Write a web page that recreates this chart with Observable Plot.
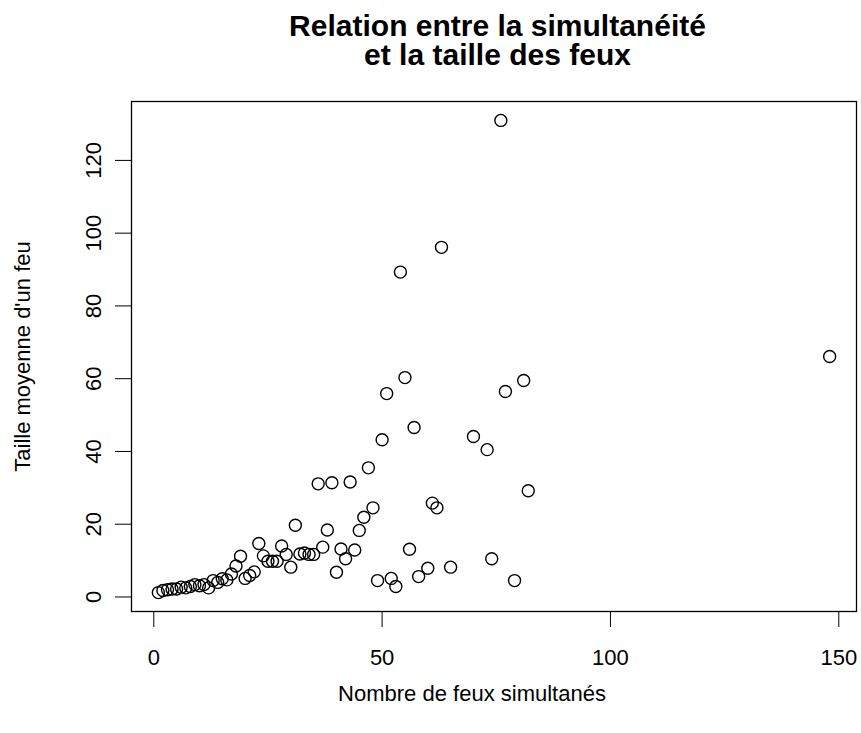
<!DOCTYPE html>
<html><head><meta charset="utf-8">
<script src="https://cdn.jsdelivr.net/npm/d3@7"></script>
<script src="https://cdn.jsdelivr.net/npm/@observablehq/plot@0.6"></script>
<style>
body{margin:0;background:#fff;}
#title{box-sizing:border-box;width:861px;height:66px;padding:11px 0 0 134px;color:#000;overflow:visible;}
#title div{font:bold 30px/29px "Liberation Sans",Arial,sans-serif;text-align:center;height:29px;}
</style></head><body>
<div id="title"><div>Relation entre la simultanéité</div><div>et la taille des feux</div></div>
<div id="chart"></div>
<script>
const nbFeux = [1,2,3,4,5,6,7,8,9,10,11,12,13,14,15,16,17,18,19,20,21,22,23,24,25,26,27,28,29,30,31,32,33,34,35,36,37,38,39,40,41,42,43,44,45,46,47,48,49,50,51,52,53,54,55,56,57,58,60,61,62,63,65,70,73,74,76,77,79,81,82,148];
const tailleMoyenne = [1.2,1.8,2.0,2.2,2.2,2.7,2.5,2.9,3.4,3.1,3.4,2.5,4.5,4.0,5.0,4.7,6.3,8.5,11.2,5.1,5.9,6.9,14.7,11.3,9.8,9.8,9.8,14.0,11.7,8.2,19.7,11.8,12.1,11.7,11.7,31.1,13.7,18.4,31.4,6.8,13.2,10.5,31.6,12.9,18.3,21.9,35.5,24.5,4.5,43.2,55.9,5.1,2.9,89.3,60.3,13.1,46.6,5.6,7.9,25.8,24.5,96.1,8.2,44.1,40.5,10.5,131.0,56.5,4.5,59.5,29.2,66.1];
const xTicks = [0,50,100,150];
const yTicks = [0,20,40,60,80,100,120];
const xLabel = "Nombre de feux simultanés";
const yLabel = "Taille moyenne d'un feu";

const data = nbFeux.map((x, i) => ({x, y: tailleMoyenne[i]}));
function pad(ext){ const r = ext[1] - ext[0]; return [ext[0] - 0.04 * r, ext[1] + 0.04 * r]; }
const font = '"Liberation Sans",Arial,sans-serif';
const chart = Plot.plot({
  width: 861, height: 667,
  marginTop: 35, marginBottom: 122, marginLeft: 131, marginRight: 5,
  style: {fontFamily: font, fontSize: "22px", color: "#000", background: "#fff"},
  x: {domain: pad(d3.extent(nbFeux))},
  y: {domain: pad(d3.extent(tailleMoyenne))},
  marks: [
    Plot.frame({stroke: "#000", strokeWidth: 1.3}),
    Plot.axisX({ticks: xTicks, tickSize: 16, tickPadding: 22, label: null, fontSize: 22, tickFormat: d => String(d)}),
    Plot.axisY({ticks: yTicks, tickSize: 16, tickPadding: 15, tickRotate: -90, label: null, fontSize: 22, tickFormat: d => String(d)}),
    Plot.dot(data, {x: "x", y: "y", r: 6, stroke: "#000", strokeWidth: 1.4, fill: "none"}),
    Plot.text([xLabel], {text: d => d, frameAnchor: "bottom", textAnchor: "middle", lineAnchor: "middle", dx: -22, dy: 82, fontSize: 22}),
    Plot.text([yLabel], {text: d => d, frameAnchor: "left", textAnchor: "middle", lineAnchor: "middle", dx: -109, rotate: -90, fontSize: 22})
  ]
});
document.getElementById("chart").appendChild(chart);
</script>
</body></html>
